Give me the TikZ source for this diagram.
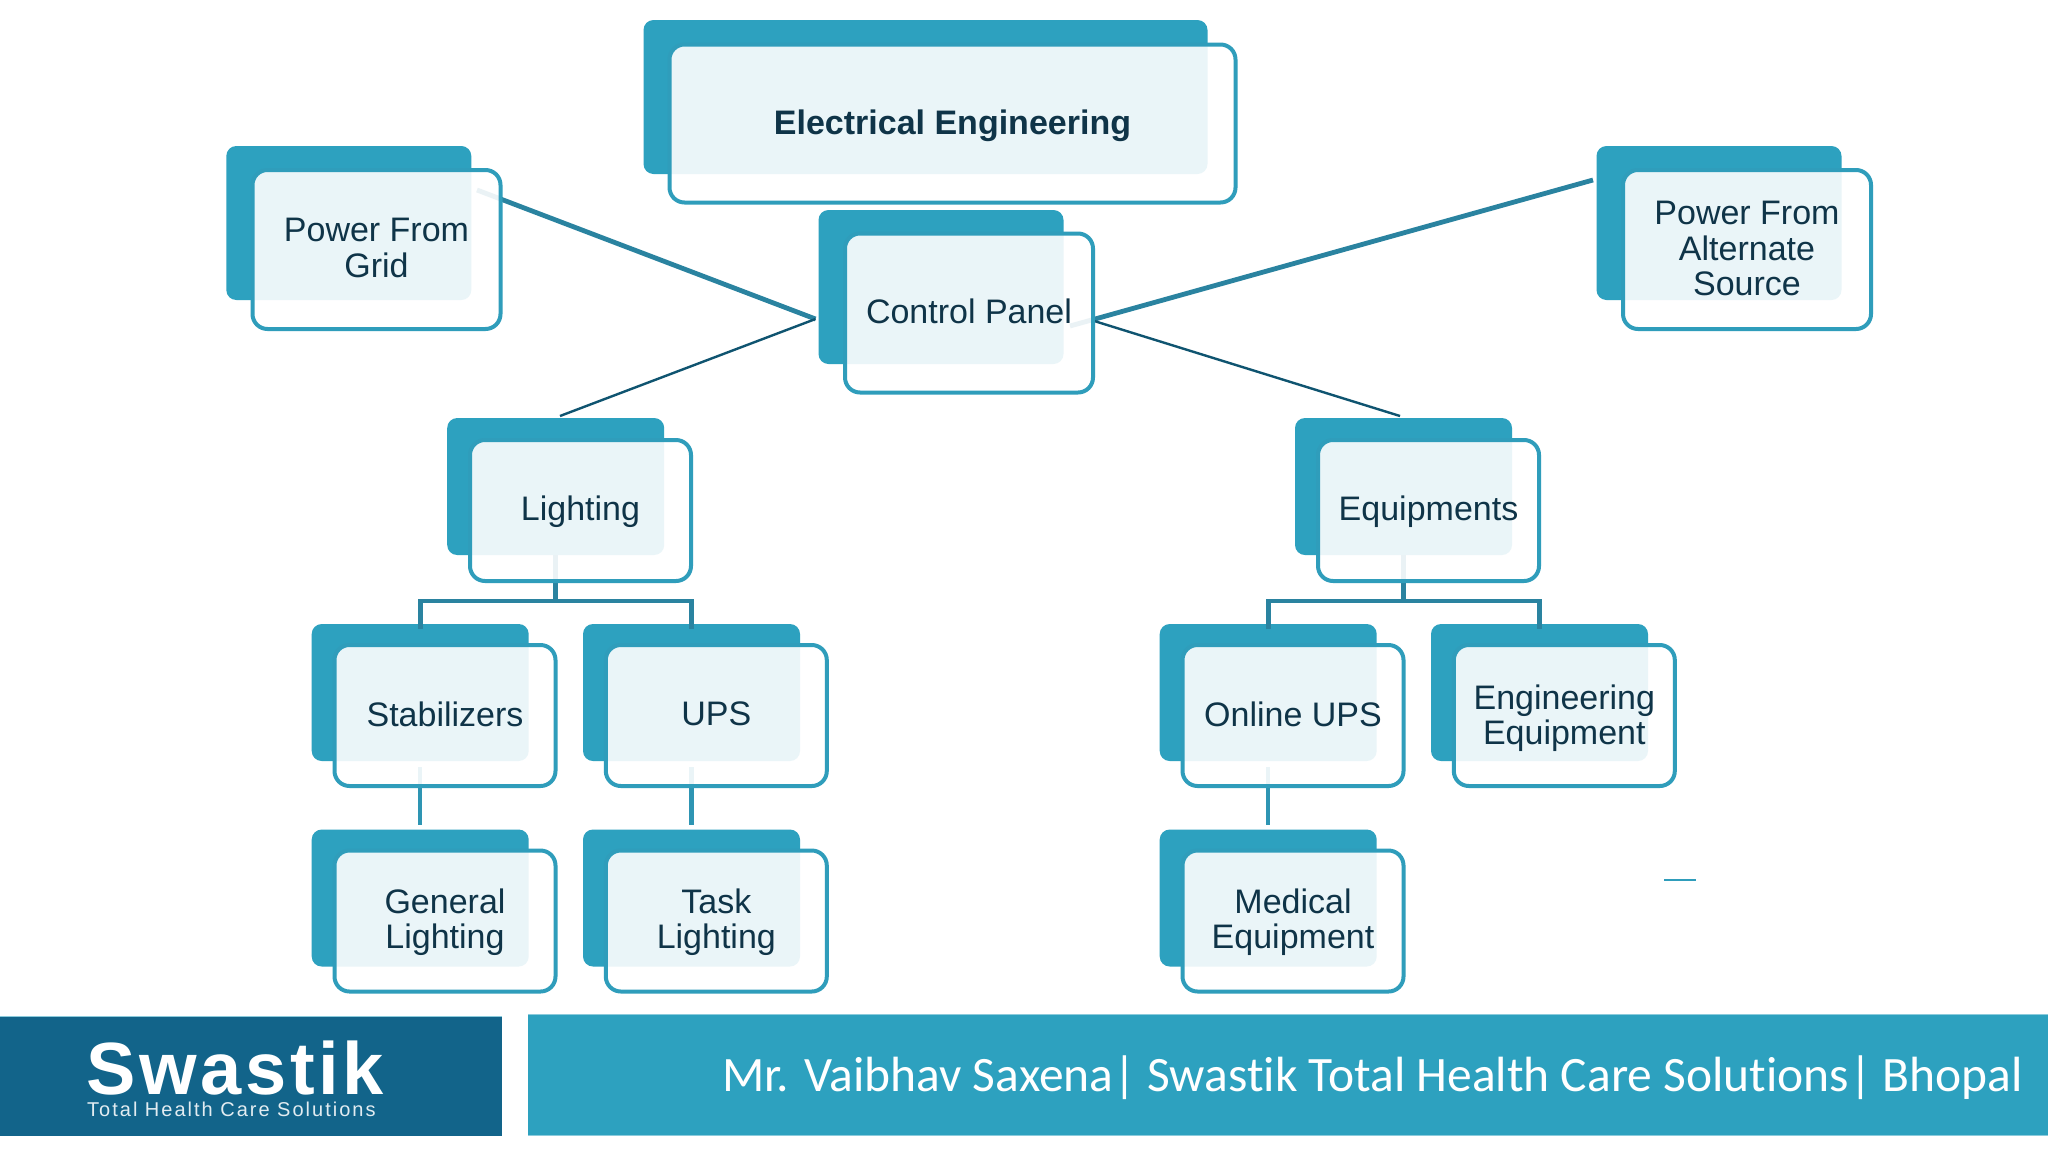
\documentclass[tikz,border=0pt]{standalone}
\usepackage{fontspec}
\setmainfont{Liberation Sans}
\newfontfamily\carl{Carlito}[Ligatures=NoCommon]
\newfontfamily\swa{Liberation Sans}[LetterSpace=5]
\newfontfamily\swb{Liberation Sans}[LetterSpace=10]
\definecolor{teal}{HTML}{2DA1BF}
\definecolor{edge}{HTML}{2F9DBB}
\definecolor{link}{HTML}{2A83A0}
\definecolor{thin}{HTML}{0F5470}
\definecolor{ink}{HTML}{0F3448}
\definecolor{navy}{HTML}{12648A}
\tikzset{
  back/.style={fill=teal,draw=none,rounded corners=10pt,inner sep=0pt,outer sep=0pt},
  front/.style={fill=white,fill opacity=.9,draw=edge,line width=4pt,rounded corners=15pt,
    inner sep=0pt,outer sep=0pt},
  lab/.style={inner sep=0pt,align=center,text=ink,font=\fontsize{34}{35.5}\selectfont},
  small/.style={minimum width=217pt,minimum height=137pt},
  smallf/.style={minimum width=221pt,minimum height=141pt},
  wide/.style={minimum width=245pt,minimum height=154pt},
  widef/.style={minimum width=248pt,minimum height=159pt},
  link/.style={draw=link,line width=4.8pt},
  drop/.style={draw=edge!70!link,line width=4.4pt},
  thinl/.style={draw=thin,line width=2.4pt},
}
\begin{document}
\begin{tikzpicture}[x=1pt,y=-1pt]
\useasboundingbox (0,0) rectangle (2048,1152);
\fill[white] (0,0) rectangle (2048,1152);
% backs
\node[back,minimum width=564pt,minimum height=154pt] (eeB) at (925.5,97) {};
\node[back,wide] (gridB) at (348.8,223) {};
\node[back,wide] (altB) at (1719,223) {};
\node[back,wide] (cpB) at (941,287) {};
\node[back,small] (lightB) at (555.7,486.5) {};
\node[back,small] (equipB) at (1403.5,486.5) {};
\node[back,small] (stabB) at (420.2,692.5) {};
\node[back,small] (upsB) at (691.5,692.5) {};
\node[back,small] (onlB) at (1268.2,692.5) {};
\node[back,small] (engB) at (1539.5,692.5) {};
\node[back,small] (genB) at (420.2,898) {};
\node[back,small] (taskB) at (691.5,898) {};
\node[back,small] (medB) at (1268.2,898) {};
% connectors
\coordinate (cpL) at (815.5,319);
\coordinate (cpR) at (1091,320);
\coordinate (gridEnd) at (477,190);
\coordinate (altEnd) at (1593,180);
\coordinate (altIn) at (1070,326);
\coordinate (lightTop) at (560,416);
\coordinate (equipTop) at (1400,416);
\coordinate (lightJ) at (555.7,601);
\coordinate (equipJ) at (1403.5,601);
\draw[link] (gridEnd) -- (cpL);
\draw[link] (altEnd) -- (altIn);
\draw[thinl] (cpL) -- (lightTop);
\draw[thinl] (cpR) -- (equipTop);
\draw[link] (lightB.south) -- (lightJ);
\draw[link] ([yshift=-5pt]stabB.north) |- (lightJ) -| ([yshift=-5pt]upsB.north);
\draw[link] (equipB.south) -- (equipJ);
\draw[link] ([yshift=-5pt]onlB.north) |- (equipJ) -| ([yshift=-5pt]engB.north);
\draw[drop,shorten <=6pt,shorten >=5pt] (stabB.south) -- (genB.north);
\draw[drop,shorten <=6pt,shorten >=5pt] (upsB.south) -- (taskB.north);
\draw[drop,shorten <=6pt,shorten >=5pt] (onlB.south) -- (medB.north);
% fronts
\node[front,minimum width=566pt,minimum height=158pt] (ee) at (952.5,123.5) {};
\node[front,widef] (grid) at (376.5,249.5) {};
\node[front,widef] (alt) at (1747,249.5) {};
\node[front,widef] (cp) at (969,313) {};
\node[front,smallf] (light) at (580.5,510.5) {};
\node[front,smallf] (equip) at (1428.5,510.5) {};
\node[front,smallf] (stab) at (445,715.5) {};
\node[front,smallf] (ups) at (716.3,715.5) {};
\node[front,smallf] (onl) at (1293,715.5) {};
\node[front,smallf] (eng) at (1564.3,715.5) {};
\node[front,smallf] (gen) at (445,921) {};
\node[front,smallf] (task) at (716.3,921) {};
\node[front,smallf] (med) at (1293,921) {};
% labels
\node[lab,font=\fontsize{34}{35.5}\bfseries\selectfont] (eeT) at (952.5,125.5) {Electrical Engineering};
\node[lab] (gridT) at (376.5,248.2) {Power From\\Grid};
\node[lab] (altT) at (1747,248.5) {Power From\\Alternate\\Source};
\node[lab] (cpT) at (969,311) {Control Panel};
\node[lab] (lightT) at (580.5,511.8) {Lighting};
\node[lab] (equipT) at (1428.5,511.8) {Equipments};
\node[lab] (stabT) at (445,714.2) {Stabilizers};
\node[lab] (upsT) at (716.3,714.2) {UPS};
\node[lab] (onlT) at (1293,714.2) {Online UPS};
\node[lab] (engT) at (1564.3,718) {Engineering\\Equipment};
\node[lab] (genT) at (445,922.3) {General\\Lighting};
\node[lab] (taskT) at (716.3,922.3) {Task\\Lighting};
\node[lab] (medT) at (1293,922.3) {Medical\\Equipment};
% small dash
\coordinate (dashA) at (1664,880);
\coordinate (dashB) at (1696,880);
\draw[draw=edge,line width=2.6pt] (dashA) -- (dashB);
% footer
\fill[navy] (0,1017) rectangle (502,1136);
\fill[teal] (528,1015) rectangle (2048,1135);
\draw[draw=teal!55!white,line width=1pt] (0,1016.5) -- (502,1016.5);
\draw[draw=teal!55!white,line width=1pt] (528,1014.5) -- (2048,1014.5) (528,1135) -- (2048,1135);
\node[anchor=base west,inner sep=0pt,text=white,font=\swa\bfseries\fontsize{74}{74}\selectfont] (logo) at (86,1094) {Swastik};
\node[anchor=base west,inner sep=0pt,text=white!88!navy,font=\swb\fontsize{20}{20}\selectfont] (logosub) at (87,1116) {Total Health Care Solutions};
\node[anchor=base west,inner sep=0pt,text=white,font=\carl\fontsize{49.5}{49.5}\selectfont] (credit) at (722,1091) {Mr. Vaibhav Saxena| Swastik Total Health Care Solutions| Bhopal};
\end{tikzpicture}
\end{document}
